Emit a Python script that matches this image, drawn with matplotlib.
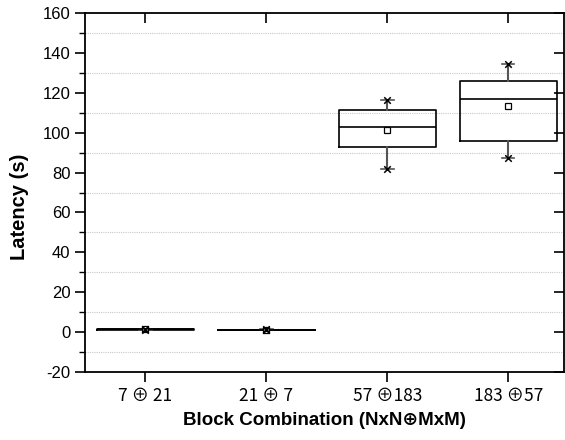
import matplotlib
matplotlib.use('Agg')
import matplotlib.pyplot as plt
from matplotlib.ticker import MultipleLocator

labels = ['7 ⊕ 21', '21 ⊕ 7', '57 ⊕183', '183 ⊕57']
q1 = [1.2, 1.3, 93.0, 95.8]
med = [1.4, 1.3, 102.7, 116.7]
q3 = [1.6, 1.3, 111.4, 125.9]
whis_lo = [1.1, 1.2, 81.8, 87.4]
whis_hi = [1.8, 1.4, 116.4, 134.4]
means = [1.4, 1.3, 101.2, 113.4]

plt.rcParams['font.family'] = ['Liberation Sans', 'DejaVu Sans']
plt.rcParams['axes.unicode_minus'] = False

fig = plt.figure(figsize=(5.65, 4.4), dpi=100)
ax = fig.add_axes([0.1504, 0.1545, 0.848, 0.816])

stats = []
for i in range(len(labels)):
    stats.append({'q1': q1[i], 'med': med[i], 'q3': q3[i],
                  'whislo': whis_lo[i], 'whishi': whis_hi[i],
                  'mean': means[i], 'fliers': []})

pos = list(range(1, len(labels) + 1))
ax.bxp(stats, positions=pos, widths=0.8, showmeans=True, capwidths=0.1,
       boxprops=dict(color='black', linewidth=1.2),
       medianprops=dict(color='black', linewidth=1.2),
       whiskerprops=dict(color='#555555', linewidth=1.5),
       capprops=dict(color='#555555', linewidth=1.2),
       meanprops=dict(marker='s', markerfacecolor='white', markeredgecolor='black',
                      markersize=4, markeredgewidth=0.9))
ax.scatter(pos, whis_lo, marker='x', s=22, color='black', linewidths=1.1, zorder=4)
ax.scatter(pos, whis_hi, marker='x', s=22, color='black', linewidths=1.1, zorder=4)

ax.set_xlim(0.5, 4.46)
ax.set_ylim(-20, 160)
ax.yaxis.set_major_locator(MultipleLocator(20))
ax.yaxis.set_minor_locator(MultipleLocator(20, offset=10))
ax.grid(which='minor', axis='y', linestyle=(0, (1, 1)), color='#c8c8c8', linewidth=0.8)
ax.set_axisbelow(True)

ax.set_xticks(pos)
ax.set_xticklabels(labels, fontsize=12.5, family=['Noto Sans CJK JP', 'DejaVu Sans'])
ax.tick_params(axis='y', which='major', direction='out', length=7, width=1.2,
               labelsize=12, right=True)
ax.tick_params(axis='y', which='minor', direction='out', length=4, width=1.0)
ax.tick_params(axis='x', which='major', direction='out', length=7, width=1.2,
               top=True, pad=4)
for t in ax.yaxis.get_major_ticks():
    t.tick2line.set_marker(matplotlib.lines.TICKLEFT)
for t in ax.xaxis.get_major_ticks():
    t.tick2line.set_marker(matplotlib.lines.TICKDOWN)
for s in ax.spines.values():
    s.set_linewidth(1.3)

ax.set_xlabel('Block Combination (NxN⊕MxM)', fontsize=13.5, fontweight='bold', labelpad=5,
              family=['Liberation Sans', 'DejaVu Sans'])
ax.set_ylabel('Latency (s)', fontsize=14.5, fontweight='bold')
ax.yaxis.set_label_coords(-0.117, 0.46)

fig.savefig('out.png', dpi=100)
